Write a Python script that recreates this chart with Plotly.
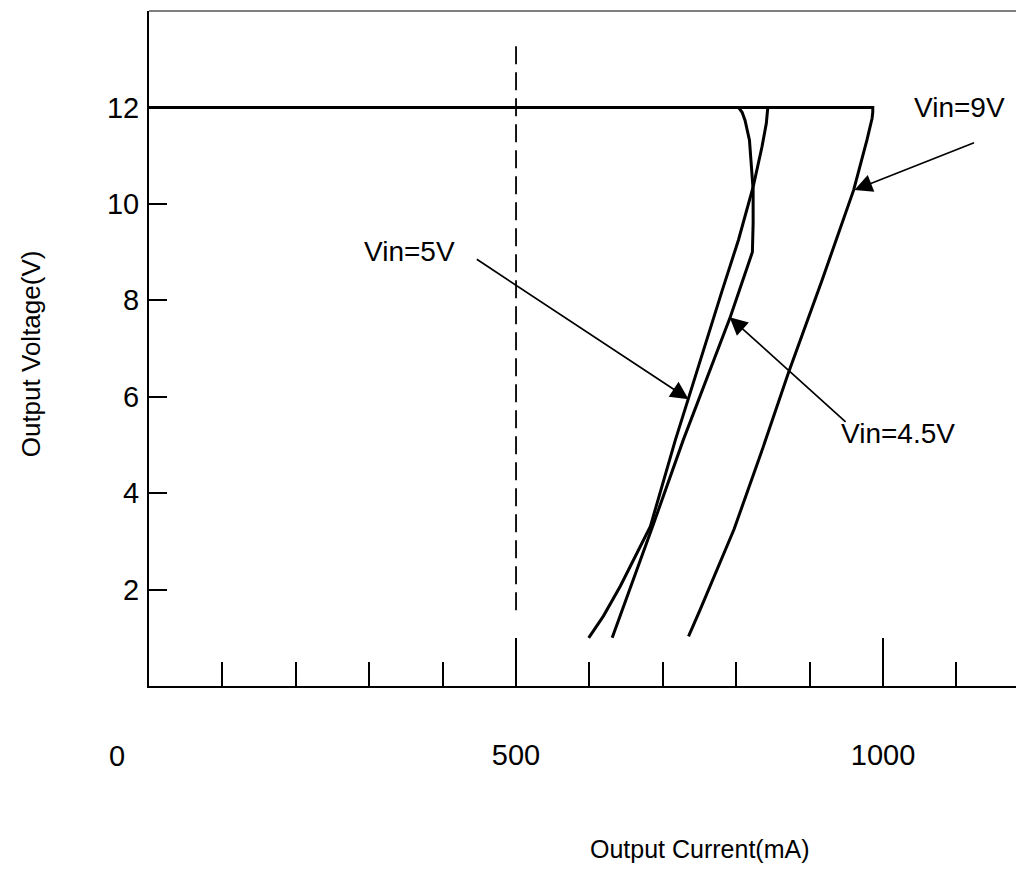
import plotly.graph_objects as go

# ---- data (Output Current mA, Output Voltage V) ----
vin9_i = [0, 986, 986, 985, 978, 960, 917, 871, 837, 797, 751, 735]
vin9_v = [12.0, 12.0, 11.9, 11.77, 11.32, 10.29, 8.42, 6.49, 4.97, 3.25, 1.59, 1.03]

vin5_i = [0, 843, 842, 841, 835, 828, 823, 803, 781, 735, 717, 683, 665, 642, 619, 599]
vin5_v = [12.0, 12.0, 11.84, 11.67, 11.18, 10.70, 10.35, 9.25, 8.21, 5.97, 5.10, 3.31, 2.76, 2.07, 1.45, 1.00]

vin45_i = [0, 803, 808, 812, 818, 821.5, 823, 823, 822, 792, 728, 686, 631]
vin45_v = [12.0, 12.0, 11.9, 11.73, 11.32, 10.63, 10.29, 9.60, 9.00, 7.66, 5.11, 3.31, 1.00]

ref_i = [500, 500]
ref_v = [1.57, 13.4]

x_major = [500, 1000]
x_major_text = ["500", "1000"]
x_minor = [100, 200, 300, 400, 600, 700, 800, 900, 1100]
y_ticks = [2, 4, 6, 8, 10, 12]

FONT = "Liberation Sans, Arial, sans-serif"

fig = go.Figure()
line = dict(color="black", width=3)
fig.add_trace(go.Scatter(x=vin9_i, y=vin9_v, mode="lines", line=line))
fig.add_trace(go.Scatter(x=vin5_i, y=vin5_v, mode="lines", line=line))
fig.add_trace(go.Scatter(x=vin45_i, y=vin45_v, mode="lines", line=line))
fig.add_trace(go.Scatter(x=ref_i, y=ref_v, mode="lines",
                         line=dict(color="black", width=1.8, dash="18px,8px")))

# page body has an 8px default margin, so the figure is offset by 8px
fig.update_layout(
    width=1016, height=863,
    margin=dict(l=141, r=0, t=3, b=185),
    paper_bgcolor="white", plot_bgcolor="white",
    showlegend=False,
    font=dict(family=FONT, color="black", size=27),
    xaxis=dict(
        range=[0, 1192], showgrid=False, zeroline=False,
        showline=True, linecolor="black", linewidth=2,
        tickmode="array", tickvals=x_major, ticktext=x_major_text,
        ticks="inside", ticklen=48, tickwidth=2, tickcolor="black",
        ticklabelstandoff=42,
        tickfont=dict(size=29, family=FONT, color="black"),
        minor=dict(tickmode="array", tickvals=x_minor, ticks="inside",
                   ticklen=24, tickwidth=2, tickcolor="black", showgrid=False),
    ),
    yaxis=dict(
        range=[0, 14], showgrid=False, zeroline=False,
        showline=True, linecolor="black", linewidth=2,
        tickmode="array", tickvals=y_ticks,
        ticks="inside", ticklen=18, tickwidth=2, tickcolor="black",
        ticklabelstandoff=2,
        tickfont=dict(size=29, family=FONT, color="black"),
    ),
)

# top frame line
fig.add_shape(type="line", xref="paper", yref="paper", x0=0, x1=1, y0=1, y1=1,
              line=dict(color="black", width=1.2))

ann_font = dict(size=28, family=FONT, color="black")
# labels
fig.add_annotation(x=1104, y=12.0, text="Vin=9V", showarrow=False, font=ann_font,
                   xanchor="center", yanchor="middle")
fig.add_annotation(x=355, y=9.01, text="Vin=5V", showarrow=False, font=ann_font,
                   xanchor="center", yanchor="middle")
fig.add_annotation(x=1020, y=5.23, text="Vin=4.5V", showarrow=False, font=ann_font,
                   xanchor="center", yanchor="middle")

# arrows (tip at x,y ; tail at ax,ay)
arrows = [
    (961, 10.29, 1126, 11.28),
    (735, 5.95, 444.5, 8.87),
    (791, 7.65, 951, 5.45),
]
for xt, yt, xa, ya in arrows:
    fig.add_annotation(x=xt, y=yt, ax=xa, ay=ya, axref="x", ayref="y",
                       text="", showarrow=True, arrowhead=2, arrowsize=2.1,
                       arrowwidth=1.7, arrowcolor="black")

# "0" label left of the axis origin
fig.add_annotation(xref="paper", yref="paper", x=-0.0366, y=-0.103, text="0",
                   showarrow=False, font=dict(size=29, family=FONT, color="black"),
                   xanchor="center", yanchor="middle")

# axis titles
fig.add_annotation(xref="paper", x=-0.1349, y=6.9, text="Output Voltage(V)",
                   textangle=-90, showarrow=False,
                   font=dict(size=26, family=FONT, color="black"),
                   xanchor="center", yanchor="middle")
fig.add_annotation(xref="paper", yref="paper", x=0.63, y=-0.242,
                   text="Output Current(mA)", showarrow=False,
                   font=dict(size=25, family=FONT, color="black"),
                   xanchor="center", yanchor="middle")

fig.write_html("out.html")
